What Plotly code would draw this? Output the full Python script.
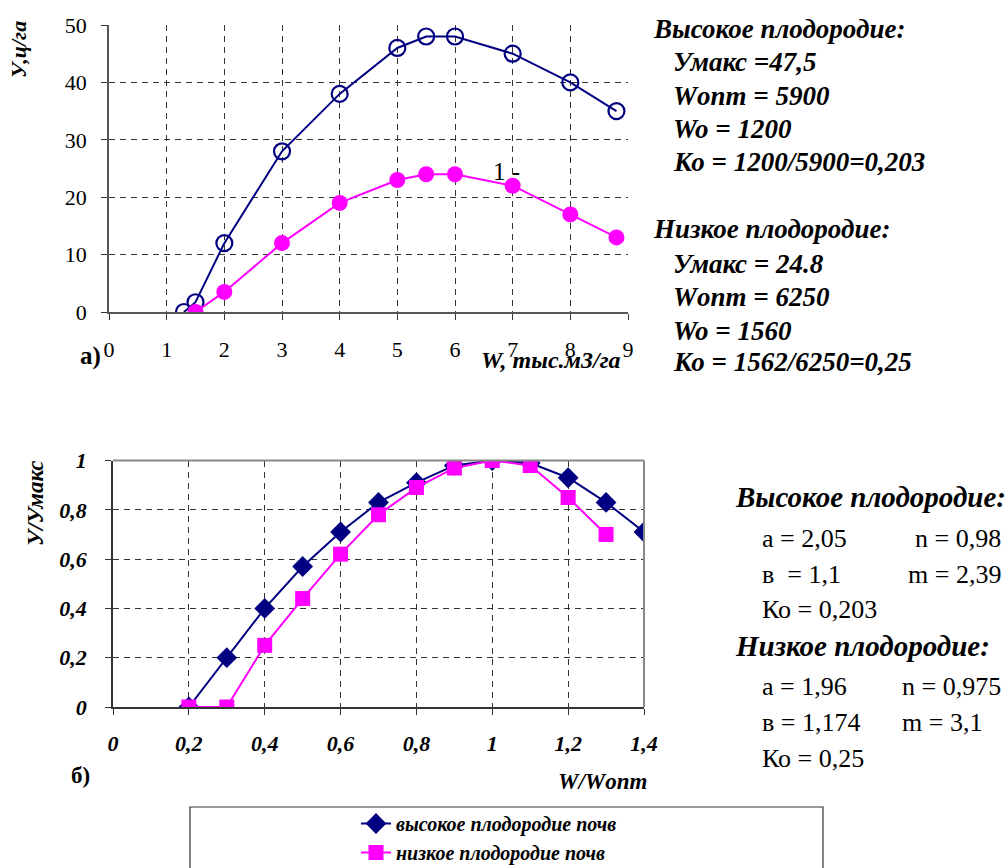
import plotly.graph_objects as go

# ---- data: top chart (a) ----
w_high = [1.3, 1.5, 2, 3, 4, 5, 5.5, 6, 7, 8, 8.8]
y_high = [0, 1.7, 12, 28, 38, 46, 48, 48, 45, 40, 35]
w_low = [1.5, 2, 3, 4, 5, 5.5, 6, 7, 8, 8.8]
y_low = [0, 3.5, 12, 19, 23, 24, 24, 22, 17, 13]

# ---- data: bottom chart (б) ----
r_high = [0.2, 0.3, 0.4, 0.5, 0.6, 0.7, 0.8, 0.9, 1.0, 1.1, 1.2, 1.3, 1.4]
q_high = [0, 0.2, 0.4, 0.57, 0.71, 0.83, 0.91, 0.98, 1.0, 0.99, 0.93, 0.83, 0.71]
r_low = [0.2, 0.3, 0.4, 0.5, 0.6, 0.7, 0.8, 0.9, 1.0, 1.1, 1.2, 1.3]
q_low = [0, 0, 0.25, 0.44, 0.62, 0.78, 0.89, 0.97, 1.0, 0.98, 0.85, 0.70]

top_xticks = [0, 1, 2, 3, 4, 5, 6, 7, 8, 9]
top_yticks = [0, 10, 20, 30, 40, 50]
bot_xticks = [0, 0.2, 0.4, 0.6, 0.8, 1.0, 1.2, 1.4]
bot_xlabels = ["0", "0,2", "0,4", "0,6", "0,8", "1", "1,2", "1,4"]
bot_yticks = [0, 0.2, 0.4, 0.6, 0.8, 1.0]
bot_ylabels = ["0", "0,2", "0,4", "0,6", "0,8", "1"]

NAVY = "#000080"
MAG = "#FF00FF"
SERIF = "Liberation Serif"
W, H = 1006, 868


def px(x):
    return x / W


def py(y):
    return 1 - y / H


fig = go.Figure()

fig.add_trace(go.Scatter(x=w_high, y=y_high, mode="lines+markers", xaxis="x", yaxis="y",
                         line=dict(color=NAVY, width=2),
                         marker=dict(symbol="circle-open", size=16, color=NAVY, line=dict(width=2.2)),
                         showlegend=False))
fig.add_trace(go.Scatter(x=w_low, y=y_low, mode="lines+markers", xaxis="x", yaxis="y",
                         line=dict(color=MAG, width=2),
                         marker=dict(symbol="circle", size=16, color=MAG),
                         showlegend=False))

fig.add_trace(go.Scatter(x=r_high, y=q_high, mode="lines+markers", xaxis="x2", yaxis="y2",
                         name="высокое плодородие почв",
                         line=dict(color=NAVY, width=2),
                         marker=dict(symbol="diamond", size=16, color=NAVY)))
fig.add_trace(go.Scatter(x=r_low, y=q_low, mode="lines+markers", xaxis="x2", yaxis="y2",
                         name="низкое плодородие почв",
                         line=dict(color=MAG, width=2),
                         marker=dict(symbol="square", size=15, color=MAG)))

grid = dict(showgrid=True, gridcolor="#333333", griddash="6px,5px", gridwidth=1, zeroline=False)

fig.update_layout(
    width=W, height=H,
    margin=dict(l=0, r=0, t=0, b=0, autoexpand=False),
    paper_bgcolor="white", plot_bgcolor="white",
    font=dict(family=SERIF, color="black"),
    xaxis=dict(domain=[px(109), px(628)], range=[0, 9], tickvals=top_xticks,
               ticks="outside", ticklen=6, tickcolor="#333", showline=True, linecolor="#555", linewidth=1.5,
               tickfont=dict(family=SERIF, size=22), ticklabelstandoff=11, anchor="y", **grid),
    yaxis=dict(domain=[py(312), py(25)], range=[0, 50], tickvals=top_yticks,
               ticks="outside", ticklen=6, tickcolor="#333", showline=True, linecolor="#555", linewidth=1.5,
               tickfont=dict(family=SERIF, size=22), ticklabelstandoff=10, anchor="x", **grid),
    xaxis2=dict(domain=[px(113), px(644)], range=[0, 1.4], tickvals=bot_xticks, ticktext=bot_xlabels,
                ticks="outside", ticklen=6, tickcolor="#333", showline=True, linecolor="#333", linewidth=1.5,
                tickfont=dict(family=SERIF, size=22, weight="bold", style="italic"),
                ticklabelstandoff=10, anchor="y2", **grid),
    yaxis2=dict(domain=[py(707), py(460.5)], range=[0, 1], tickvals=bot_yticks, ticktext=bot_ylabels,
                ticks="outside", ticklen=6, tickcolor="#333", showline=True, linecolor="#333", linewidth=1.5,
                tickfont=dict(family=SERIF, size=22, weight="bold", style="italic"),
                ticklabelstandoff=14, anchor="x2", **grid),
    legend=dict(x=px(356), y=py(804), xanchor="left", yanchor="top",
                bgcolor="rgba(0,0,0,0)", borderwidth=0, tracegroupgap=0,
                font=dict(family=SERIF, size=20, weight="bold", style="italic")),
)

# frame of bottom plot (top and right sides)
fig.add_shape(type="line", xref="x2 domain", yref="y2 domain", x0=0, x1=1, y0=1, y1=1,
              line=dict(color="#888", width=2))
fig.add_shape(type="line", xref="x2 domain", yref="y2 domain", x0=1, x1=1, y0=0, y1=1,
              line=dict(color="#888", width=2))
# legend box
fig.add_shape(type="rect", xref="paper", yref="paper", x0=px(190), x1=px(823), y0=py(875), y1=py(807),
              line=dict(color="#333", width=1.2), fillcolor="rgba(0,0,0,0)")

anns = []


def txt(x, y, s, size=22, bold=True, italic=True, xanchor="left", angle=0):
    anns.append(dict(xref="paper", yref="paper", x=px(x), y=py(y), text=s, showarrow=False,
                     xanchor=xanchor, yanchor="middle", textangle=angle,
                     font=dict(family=SERIF, size=size, weight="bold" if bold else "normal",
                               style="italic" if italic else "normal", color="black")))


# axis titles / labels
txt(18, 50, "У,ц/га", size=22, angle=-90, xanchor="center")
txt(551, 360, "W, тыс.м3/га", size=24, xanchor="center")
txt(90, 356, "а)", size=25, italic=False, xanchor="center")
txt(36, 503, "У/Умакс", size=23, angle=-90, xanchor="center")
txt(602, 781, "W/Wопт", size=23, xanchor="center")
txt(80, 775, "б)", size=23, italic=False, xanchor="center")
anns.append(dict(xref="x", yref="y", x=6.9, y=24.4, text="1 -", showarrow=False,
                 font=dict(family=SERIF, size=25, color="black")))

# top right text
TS = 27
txt(651, 29, "Высокое плодородие:", size=TS)
txt(671, 62, "Умакс =47,5", size=TS)
txt(671, 96, "Wопт = 5900", size=TS)
txt(671, 129, "Wo = 1200", size=TS)
txt(671, 162, "Ко = 1200/5900=0,203", size=TS)
txt(651, 229, "Низкое плодородие:", size=TS)
txt(671, 264, "Умакс = 24.8", size=TS)
txt(671, 297, "Wопт = 6250", size=TS)
txt(671, 331, "Wo = 1560", size=TS)
txt(671, 362, "Ко = 1562/6250=0,25", size=TS)

# bottom right text
HS, RS = 29, 26
txt(733, 497, "Высокое плодородие:", size=HS)
txt(760, 538, "a = 2,05", size=RS, bold=False, italic=False)
txt(1003, 538, "n = 0,98", size=RS, bold=False, italic=False, xanchor="right")
txt(760, 574, "в  = 1,1", size=RS, bold=False, italic=False)
txt(1003, 574, "m = 2,39", size=RS, bold=False, italic=False, xanchor="right")
txt(760, 609, "Ко = 0,203", size=RS, bold=False, italic=False)
txt(733, 646, "Низкое плодородие:", size=HS)
txt(760, 686, "a = 1,96", size=RS, bold=False, italic=False)
txt(1003, 686, "n = 0,975", size=RS, bold=False, italic=False, xanchor="right")
txt(760, 722, "в = 1,174", size=RS, bold=False, italic=False)
txt(900, 722, "m = 3,1", size=RS, bold=False, italic=False)
txt(760, 758, "Ко = 0,25", size=RS, bold=False, italic=False)

fig.update_layout(annotations=anns)

fig.write_html("out.html")
